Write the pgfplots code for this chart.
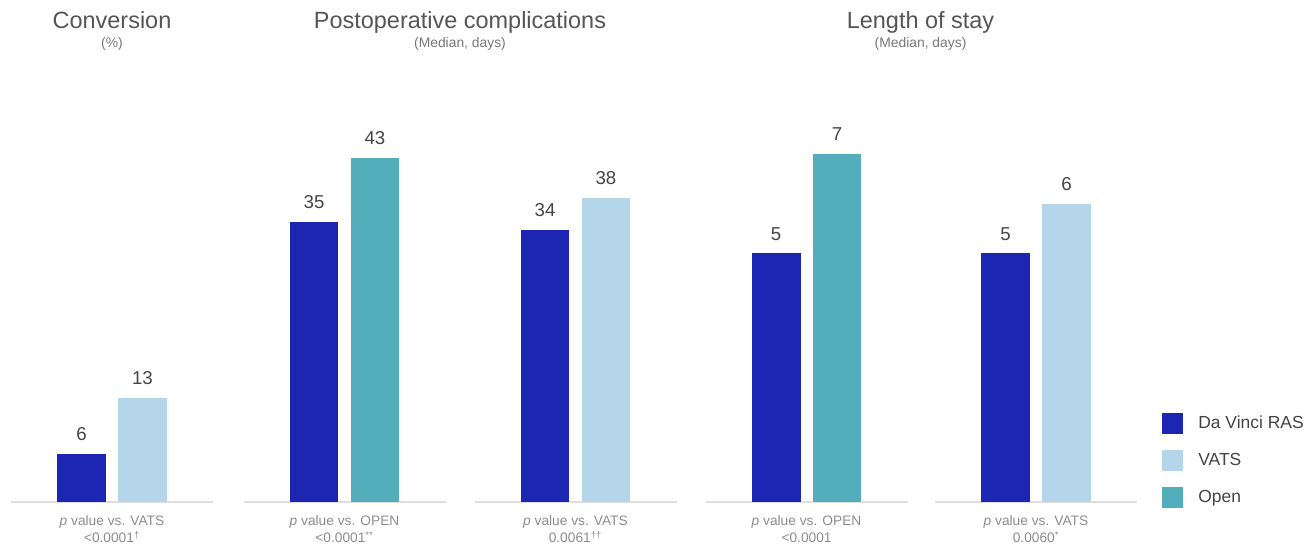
\documentclass[border=0pt]{standalone}
\usepackage{fontspec}
\setmainfont{Liberation Sans}
\usepackage{pgfplots}
\pgfplotsset{compat=1.18}

\definecolor{rasblue}{HTML}{1C26B3}
\definecolor{vatsblue}{HTML}{B4D5EA}
\definecolor{openteal}{HTML}{53AEBC}
\definecolor{baseline}{HTML}{DEDEDE}
\definecolor{titlegray}{HTML}{555555}
\definecolor{labelgray}{HTML}{444444}
\definecolor{notegray}{HTML}{8C8C8C}

\pgfplotsset{
  panel/.style={
    scale only axis, width=151.5pt, height=300pt,
    anchor=south west,
    xmin=-1.156, xmax=2.156, ymin=0,
    axis y line=none, axis x line=bottom,
    axis line style={-, draw=baseline, line width=1.2pt},
    xtick=\empty, ytick=\empty,
    clip=false,
    /pgf/number format/assume math mode=true,
    ybar, bar width=0.803, bar shift=0pt,
    nodes near coords,
    nodes near coords style={font=\fontsize{14}{16}\selectfont, text=labelgray,
      anchor=base, inner sep=0pt, yshift=10pt},
  },
  pct/.style={ymax=50},
  days/.style={ymax=8.048},
}

\newcommand\note[4]{% x, first line, second line, marker
  \node[anchor=base, font=\fontsize{10.3}{12}\selectfont, text=notegray] at (#1,14.25pt) {#2};
  \node[anchor=base, font=\fontsize{10.3}{12}\selectfont, text=notegray] at (#1,1.5pt) {#3#4};
}

\begin{document}
\begin{tikzpicture}
\path[use as bounding box] (0,0) rectangle (980.25pt,408.75pt);

% Conversion (%)
\begin{axis}[panel, pct, at={(8.25pt,32.25pt)}]
  \addplot[fill=rasblue, draw=none, bar shift=0pt] coordinates {(0,6)};
  \addplot[fill=vatsblue, draw=none, bar shift=0pt] coordinates {(1,13)};
\end{axis}

% Postoperative complications: RAS vs Open
\begin{axis}[panel, pct, at={(182.625pt,32.25pt)}]
  \addplot[fill=rasblue, draw=none, bar shift=0pt] coordinates {(0,35)};
  \addplot[fill=openteal, draw=none, bar shift=0pt] coordinates {(1,43)};
\end{axis}

% Postoperative complications: RAS vs VATS
\begin{axis}[panel, pct, at={(355.875pt,32.25pt)}]
  \addplot[fill=rasblue, draw=none, bar shift=0pt] coordinates {(0,34)};
  \addplot[fill=vatsblue, draw=none, bar shift=0pt] coordinates {(1,38)};
\end{axis}

% Length of stay: RAS vs Open
\begin{axis}[panel, days, at={(529.125pt,32.25pt)}]
  \addplot[fill=rasblue, draw=none, bar shift=0pt] coordinates {(0,5)};
  \addplot[fill=openteal, draw=none, bar shift=0pt] coordinates {(1,7)};
\end{axis}

% Length of stay: RAS vs VATS, with the legend
\begin{axis}[panel, days, at={(701.25pt,32.25pt)},
  legend image code/.code={\fill[#1] (0pt,-7.875pt) rectangle (15.75pt,7.875pt); \path (27pt,0pt);},
  legend cell align=left,
  legend style={draw=none, fill=none, at={(rel axis cs:1.124,0.224)}, anchor=north west,
    inner sep=0pt, row sep=12pt, font=\fontsize{13.1}{15}\selectfont, text=labelgray,
    nodes={inner sep=0pt}},
  ]
  \addplot[fill=rasblue, draw=none, bar shift=0pt] coordinates {(0,5)};
  \addlegendentry{Da Vinci RAS}
  \addplot[fill=vatsblue, draw=none, bar shift=0pt] coordinates {(1,6)};
  \addlegendentry{VATS}
  \addlegendimage{fill=openteal, draw=none}
  \addlegendentry{Open}
\end{axis}

% Panel titles
\node[anchor=base, font=\fontsize{17.6}{20}\selectfont, text=titlegray] at (84pt,387pt) {Conversion};
\node[anchor=base, font=\fontsize{10.4}{12}\selectfont, text=notegray!85!black] at (84pt,372.75pt) {(\%)};
\node[anchor=base, font=\fontsize{17.6}{20}\selectfont, text=titlegray] at (345pt,387pt) {Postoperative complications};
\node[anchor=base, font=\fontsize{10.4}{12}\selectfont, text=notegray!85!black] at (345pt,372.75pt) {(Median, days)};
\node[anchor=base, font=\fontsize{17.6}{20}\selectfont, text=titlegray] at (690.4pt,387pt) {Length of stay};
\node[anchor=base, font=\fontsize{10.4}{12}\selectfont, text=notegray!85!black] at (690.4pt,372.75pt) {(Median, days)};

% p values under each panel
\note{84pt}{\textit{p} value vs. VATS}{<0.0001}{\textsuperscript{†}}
\note{258.4pt}{\textit{p} value vs. OPEN}{<0.0001}{\textsuperscript{**}}
\note{431.6pt}{\textit{p} value vs. VATS}{0.0061}{\textsuperscript{††}}
\note{604.9pt}{\textit{p} value vs. OPEN}{<0.0001}{}
\note{777pt}{\textit{p} value vs. VATS}{0.0060}{\textsuperscript{*}}
\end{tikzpicture}
\end{document}
